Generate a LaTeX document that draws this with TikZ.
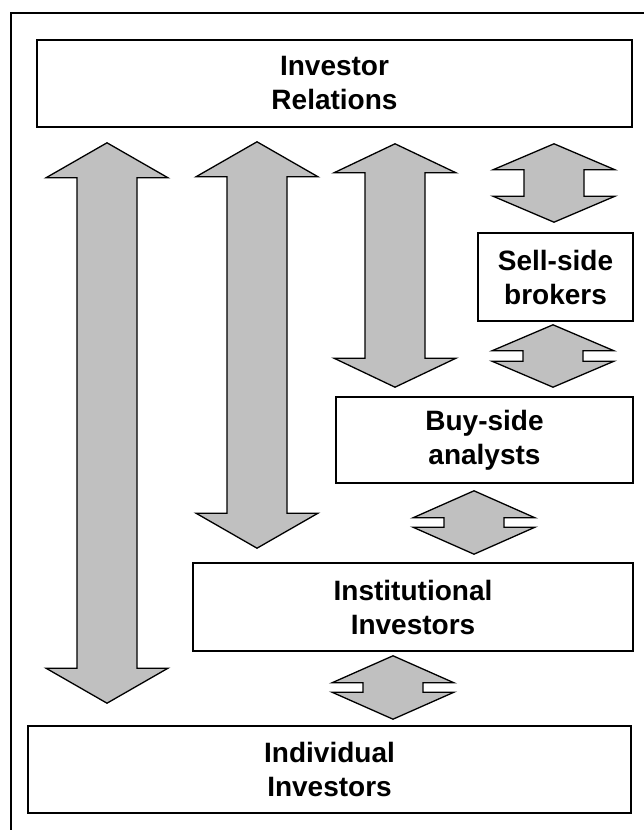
\documentclass[tikz,border=0pt]{standalone}
\usepackage{fontspec}
\setmainfont{Liberation Sans}
\usetikzlibrary{calc}
\definecolor{arrowgray}{HTML}{C0C0C0}
\tikzset{
party/.style={draw=black,line width=1.6pt,fill=white,align=center,inner sep=0pt,
font=\bfseries\fontsize{28}{34}\selectfont},
blockarrow/.style={draw=black,line width=1.3pt,fill=arrowgray,line join=miter},
frameline/.style={draw=black,line width=1.5pt}
}
% double block arrow between two boxes: axis, upper box, lower box, gap above, gap below, head length
\newcommand{\linkarrow}[6]{%
\draw[blockarrow]
($(#2.south -| #1)+(0,-#4)$)
-- ++(61,-#6) -- ++(-31,0)
-- ($(#3.north -| #1)+(30,#5+#6)$) -- ++(31,0)
-- ($(#3.north -| #1)+(0,#5)$)
-- ++(-61,#6) -- ++(31,0)
-- ($(#2.south -| #1)+(-30,-#4-#6)$) -- ++(-31,0) -- cycle;}

\begin{document}
\begin{tikzpicture}[x=1pt,y=1pt]
\useasboundingbox (0,0) rectangle (644,830);
\draw[frameline] (11,0) -- (11,817) -- (644,817);

\node[party,minimum width=595,minimum height=87] (ir) at (334.5,746.5) {Investor\\Relations};
\node[party,minimum width=155,minimum height=88] (sell) at (555.5,553) {Sell-side\\brokers};
\node[party,minimum width=297,minimum height=86] (buy) at (484.5,390) {Buy-side\\analysts};
\node[party,minimum width=440,minimum height=88] (inst) at (413,223) {Institutional\\Investors};
\node[party,minimum width=603,minimum height=87] (indiv) at (329.5,60.5) {Individual\\Investors};

\coordinate (c1) at (107,0);
\coordinate (c2) at (257,0);
\coordinate (c3) at (395,0);
\coordinate (c4) at (554,0);
\coordinate (c5) at (553,0);
\coordinate (c6) at (474,0);
\coordinate (c7) at (393,0);

\linkarrow{c1}{ir}{indiv}{15}{22}{35}
\linkarrow{c2}{ir}{inst}{14}{14}{35}
\linkarrow{c3}{ir}{buy}{16}{9}{29}
\linkarrow{c4}{ir}{sell}{16}{10}{26}
\linkarrow{c5}{sell}{buy}{3}{9}{26}
\linkarrow{c6}{buy}{inst}{7}{8}{27}
\linkarrow{c7}{inst}{indiv}{4}{6}{27}
\end{tikzpicture}
\end{document}
